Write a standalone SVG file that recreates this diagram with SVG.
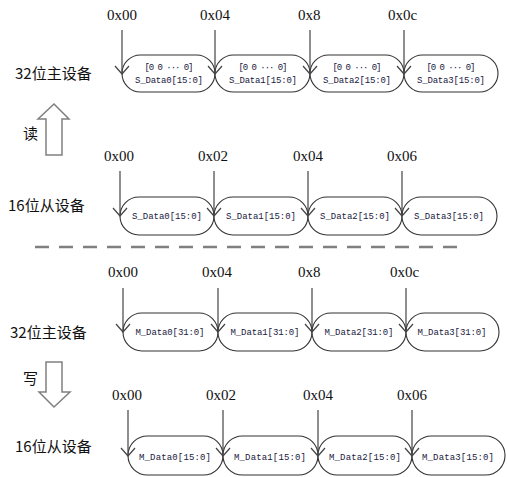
<svg xmlns="http://www.w3.org/2000/svg" width="507" height="477" viewBox="0 0 507 477">
<style>
.bg{fill:#ffffff}
.pill{fill:#ffffff;stroke:#333333;stroke-width:1.1}
.pt{font-family:"Liberation Mono",monospace;font-size:9px;fill:#202040;text-anchor:middle}
.hex{font-family:"Liberation Serif",serif;font-size:15px;fill:#111111}
.lbl{font-family:"Noto Sans CJK SC",sans-serif;font-size:15px;fill:#111111}
.ptr{stroke:#444444;stroke-width:1.2;fill:none;marker-end:url(#v)}
.big{fill:#ffffff;stroke:#808080;stroke-width:1.5}
.dash{stroke:#808080;stroke-width:2.5;stroke-dasharray:14 10}
</style>
<defs>
<marker id="v" markerUnits="userSpaceOnUse" viewBox="-10 -10 12 20" refX="0" refY="0" markerWidth="12" markerHeight="20" orient="auto" overflow="visible">
<path d="M-8,-7 L0,0 L-8,7" fill="none" stroke="#444444" stroke-width="1.2"/>
</marker>
</defs>
<rect class="bg" width="507" height="477"/>

<g id="row1-label"><text class="lbl" x="15" y="79">32位主设备</text></g>
<g id="read-arrow"><polygon class="big" points="46,155 46,119 38,119 54,104 69,119 62,119 62,155"/><text class="lbl" x="23" y="139">读</text></g>
<g id="row2-label"><text class="lbl" x="8" y="211">16位从设备</text></g>
<g id="row3-label"><text class="lbl" x="10" y="338">32位主设备</text></g>
<g id="write-arrow"><polygon class="big" points="46,362 62,362 62,392 70,392 54,407 39,392 46,392"/><text class="lbl" x="23" y="384">写</text></g>
<g id="row4-label"><text class="lbl" x="15" y="452">16位从设备</text></g>

<g id="separator"><line class="dash" x1="35" y1="247" x2="459" y2="247"/></g>

<!-- Row 1 -->
<g id="r1n0"><rect class="pill" x="122" y="55" width="93" height="37" rx="18.5"/><text class="pt" x="169" y="70" textLength="49">[0 0 ··· 0]</text><text class="pt" x="169" y="83" textLength="68">S_Data0[15:0]</text></g>
<g id="r1n1"><rect class="pill" x="215" y="55" width="95" height="37" rx="18.5"/><text class="pt" x="263" y="70" textLength="49">[0 0 ··· 0]</text><text class="pt" x="263" y="83" textLength="68">S_Data1[15:0]</text></g>
<g id="r1n2"><rect class="pill" x="310" y="55" width="94" height="37" rx="18.5"/><text class="pt" x="357" y="70" textLength="49">[0 0 ··· 0]</text><text class="pt" x="357" y="83" textLength="68">S_Data2[15:0]</text></g>
<g id="r1n3"><rect class="pill" x="404" y="55" width="94" height="37" rx="18.5"/><text class="pt" x="451" y="70" textLength="49">[0 0 ··· 0]</text><text class="pt" x="451" y="83" textLength="68">S_Data3[15:0]</text></g>

<!-- Row 2 -->
<g id="r2n0"><rect class="pill" x="120" y="197" width="94" height="38" rx="19"/><text class="pt" x="167" y="219" textLength="70">S_Data0[15:0]</text></g>
<g id="r2n1"><rect class="pill" x="214" y="197" width="94" height="38" rx="19"/><text class="pt" x="261" y="219" textLength="70">S_Data1[15:0]</text></g>
<g id="r2n2"><rect class="pill" x="308" y="197" width="94" height="38" rx="19"/><text class="pt" x="355" y="219" textLength="70">S_Data2[15:0]</text></g>
<g id="r2n3"><rect class="pill" x="402" y="197" width="95" height="38" rx="19"/><text class="pt" x="449" y="219" textLength="70">S_Data3[15:0]</text></g>

<!-- Row 3 -->
<g id="r3n0"><rect class="pill" x="123" y="313" width="95" height="38" rx="19"/><text class="pt" x="170" y="335" textLength="69">M_Data0[31:0]</text></g>
<g id="r3n1"><rect class="pill" x="218" y="313" width="94" height="38" rx="19"/><text class="pt" x="265" y="335" textLength="69">M_Data1[31:0]</text></g>
<g id="r3n2"><rect class="pill" x="312" y="313" width="94" height="38" rx="19"/><text class="pt" x="359" y="335" textLength="69">M_Data2[31:0]</text></g>
<g id="r3n3"><rect class="pill" x="406" y="313" width="93" height="38" rx="19"/><text class="pt" x="452" y="335" textLength="69">M_Data3[31:0]</text></g>

<!-- Row 4 -->
<g id="r4n0"><rect class="pill" x="128" y="436" width="95" height="39" rx="19.5"/><text class="pt" x="175" y="460" textLength="72">M_Data0[15:0]</text></g>
<g id="r4n1"><rect class="pill" x="223" y="436" width="95" height="39" rx="19.5"/><text class="pt" x="270" y="460" textLength="72">M_Data1[15:0]</text></g>
<g id="r4n2"><rect class="pill" x="318" y="436" width="94" height="39" rx="19.5"/><text class="pt" x="365" y="460" textLength="72">M_Data2[15:0]</text></g>
<g id="r4n3"><rect class="pill" x="412" y="436" width="93" height="39" rx="19.5"/><text class="pt" x="458" y="460" textLength="72">M_Data3[15:0]</text></g>

<g id="addresses">
<text class="hex" x="107" y="20">0x00</text><text class="hex" x="200" y="20">0x04</text><text class="hex" x="298" y="20">0x8</text><text class="hex" x="388" y="20">0x0c</text>
<text class="hex" x="104" y="161">0x00</text><text class="hex" x="198" y="161">0x02</text><text class="hex" x="293" y="161">0x04</text><text class="hex" x="387" y="161">0x06</text>
<text class="hex" x="108" y="277">0x00</text><text class="hex" x="202" y="277">0x04</text><text class="hex" x="298" y="277">0x8</text><text class="hex" x="390" y="277">0x0c</text>
<text class="hex" x="112" y="400">0x00</text><text class="hex" x="206" y="400">0x02</text><text class="hex" x="303" y="400">0x04</text><text class="hex" x="397" y="400">0x06</text>
</g>

<g id="connectors">
<line class="ptr" x1="122" y1="30" x2="122" y2="74"/>
<line class="ptr" x1="215" y1="30" x2="215" y2="74"/>
<line class="ptr" x1="310" y1="30" x2="310" y2="74"/>
<line class="ptr" x1="404" y1="30" x2="404" y2="74"/>
<line class="ptr" x1="120" y1="171" x2="120" y2="216"/>
<line class="ptr" x1="214" y1="171" x2="214" y2="216"/>
<line class="ptr" x1="308" y1="171" x2="308" y2="216"/>
<line class="ptr" x1="402" y1="171" x2="402" y2="216"/>
<line class="ptr" x1="123" y1="288" x2="123" y2="332"/>
<line class="ptr" x1="218" y1="288" x2="218" y2="332"/>
<line class="ptr" x1="312" y1="288" x2="312" y2="332"/>
<line class="ptr" x1="406" y1="288" x2="406" y2="332"/>
<line class="ptr" x1="128" y1="410" x2="128" y2="456"/>
<line class="ptr" x1="223" y1="410" x2="223" y2="456"/>
<line class="ptr" x1="318" y1="410" x2="318" y2="456"/>
<line class="ptr" x1="412" y1="410" x2="412" y2="456"/>
</g>
</svg>
